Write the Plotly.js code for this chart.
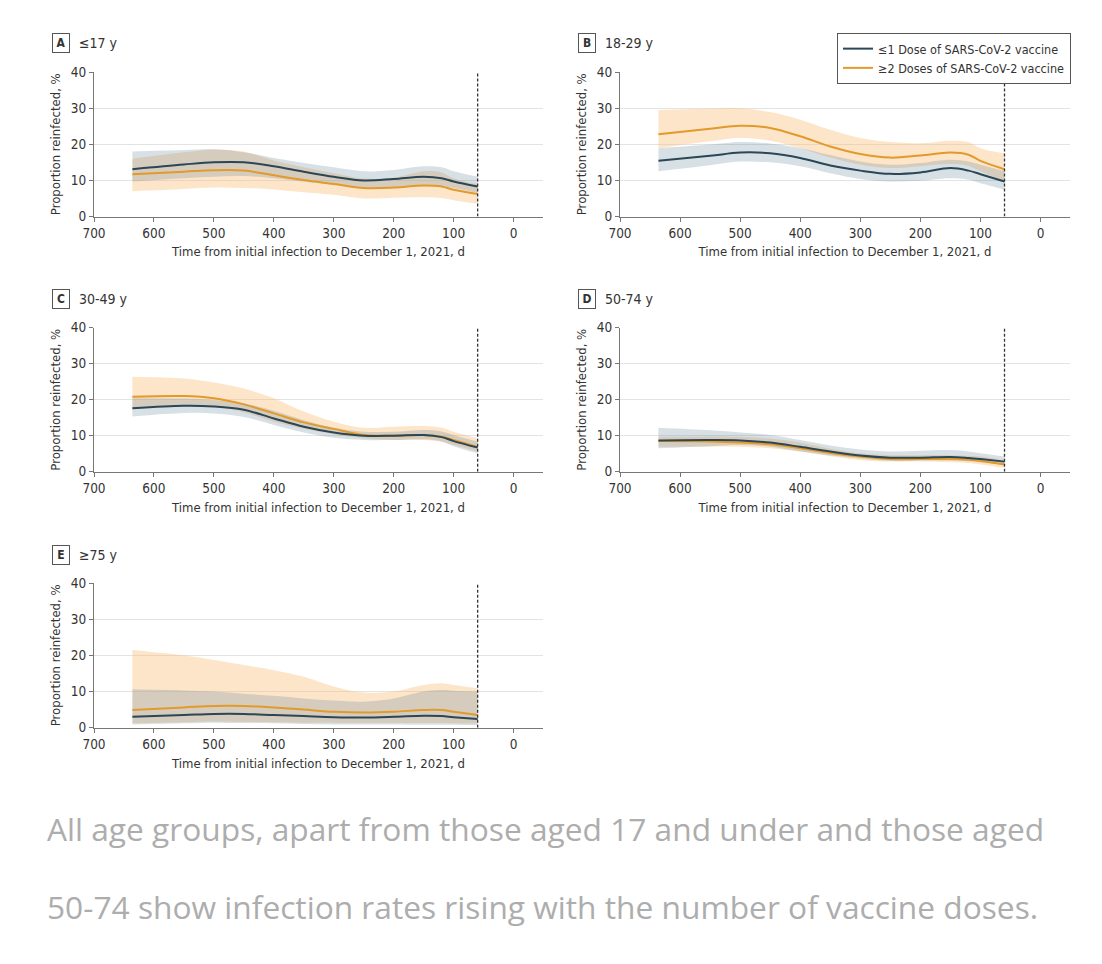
<!DOCTYPE html>
<html>
<head>
<meta charset="utf-8">
<script src="https://cdn.plot.ly/plotly-3.0.1.min.js"></script>
<style>
  html, body { margin: 0; padding: 0; background: #fff; }
  #chart { width: 1102px; height: 964px; }
</style>
</head>
<body>
<div id="chart"></div>
<script>
// days from initial infection to Dec 1, 2021
const days = [636, 550, 500, 450, 400, 350, 300, 250, 200, 150, 120, 100, 60];
const cutoffDay = 60;

// A: <=17 y
const lowDoseA = [13.1, 14.4, 15.0, 15.0, 13.9, 12.4, 11.0, 10.0, 10.4, 11.0, 10.6, 9.7, 8.3];
const lowDoseA_hi = [18.0, 18.4, 18.7, 17.8, 16.2, 14.8, 13.6, 12.5, 12.9, 13.9, 13.6, 12.5, 11.0];
const lowDoseA_lo = [9.7, 10.6, 11.0, 11.2, 10.6, 9.6, 8.8, 7.9, 8.0, 8.6, 8.4, 7.9, 6.5];
const highDoseA = [11.7, 12.4, 12.8, 12.7, 11.4, 10.1, 9.0, 7.9, 8.0, 8.6, 8.3, 7.4, 6.2];
const highDoseA_hi = [16.0, 17.8, 18.5, 18.0, 15.5, 13.6, 12.0, 10.5, 10.7, 12.5, 12.2, 10.5, 9.0];
const highDoseA_lo = [7.0, 7.6, 8.0, 7.9, 7.5, 6.7, 6.0, 5.0, 5.2, 5.3, 5.1, 4.5, 3.5];

// B: 18-29 y
const lowDoseB = [15.4, 16.8, 17.7, 17.5, 16.2, 14.1, 12.7, 11.8, 12.2, 13.4, 12.7, 11.7, 9.7];
const lowDoseB_hi = [18.9, 19.9, 20.6, 20.2, 18.9, 17.0, 15.2, 14.3, 14.8, 15.7, 15.2, 14.3, 12.5];
const lowDoseB_lo = [12.5, 14.2, 15.2, 15.0, 13.9, 12.0, 10.4, 9.7, 9.9, 10.6, 10.2, 9.2, 7.4];
const highDoseB = [22.8, 24.3, 25.1, 24.5, 22.2, 19.4, 17.3, 16.3, 16.9, 17.7, 17.1, 15.4, 13.1];
const highDoseB_hi = [29.5, 29.9, 30.0, 28.9, 26.8, 24.0, 21.7, 20.6, 20.3, 21.0, 20.6, 18.9, 17.5];
const highDoseB_lo = [18.9, 20.8, 21.7, 21.0, 18.9, 16.3, 14.3, 13.4, 13.9, 14.5, 14.0, 12.5, 9.7];

// C: 30-49 y
const lowDoseC = [17.6, 18.3, 18.1, 17.2, 14.8, 12.5, 10.9, 10.0, 10.0, 10.2, 9.6, 8.5, 6.7];
const lowDoseC_hi = [20.4, 20.3, 19.9, 19.0, 16.9, 14.3, 12.2, 11.1, 11.1, 11.6, 11.2, 10.2, 8.3];
const lowDoseC_lo = [15.3, 16.3, 16.2, 15.2, 13.0, 10.9, 9.4, 8.8, 8.8, 9.0, 8.4, 7.1, 5.1];
const highDoseC = [20.8, 21.0, 20.4, 18.7, 16.2, 13.7, 11.9, 10.2, 10.0, 10.2, 9.7, 8.8, 6.9];
const highDoseC_hi = [26.4, 25.9, 24.8, 23.1, 20.4, 16.7, 13.9, 12.2, 12.5, 12.7, 12.2, 11.1, 9.3];
const highDoseC_lo = [17.6, 18.4, 18.1, 16.5, 13.9, 11.9, 10.4, 9.3, 8.8, 8.8, 8.3, 7.4, 5.6];

// D: 50-74 y
const lowDoseD = [8.7, 8.8, 8.7, 8.1, 6.9, 5.6, 4.5, 3.9, 3.9, 4.1, 3.8, 3.5, 2.8];
const lowDoseD_hi = [12.2, 11.5, 10.9, 10.2, 8.8, 7.3, 6.2, 5.6, 5.8, 6.0, 5.6, 5.1, 4.2];
const lowDoseD_lo = [6.5, 7.1, 7.4, 6.9, 5.6, 4.5, 3.7, 3.0, 3.1, 3.1, 2.9, 2.6, 1.9];
const highDoseD = [8.5, 8.4, 8.1, 7.6, 6.5, 5.2, 4.2, 3.5, 3.5, 3.5, 3.3, 3.0, 2.0];
const highDoseD_hi = [9.7, 9.8, 9.7, 9.2, 8.1, 6.4, 5.1, 4.6, 4.6, 4.6, 4.4, 4.2, 3.2];
const highDoseD_lo = [6.9, 7.0, 6.9, 6.5, 5.6, 4.3, 3.2, 2.8, 2.8, 2.6, 2.4, 2.0, 1.1];

// E: >=75 y
const lowDoseE = [3.0, 3.5, 3.8, 3.8, 3.5, 3.2, 2.9, 2.8, 3.0, 3.3, 3.2, 2.9, 2.4];
const lowDoseE_hi = [10.6, 10.3, 10.0, 9.4, 8.8, 8.1, 7.5, 7.2, 8.1, 10.0, 10.4, 10.2, 10.0];
const lowDoseE_lo = [0.9, 1.2, 1.4, 1.3, 1.2, 1.0, 0.9, 0.9, 0.9, 0.8, 0.8, 0.8, 0.7];
const highDoseE = [4.9, 5.6, 6.0, 6.0, 5.6, 5.0, 4.4, 4.2, 4.4, 4.9, 4.9, 4.4, 3.5];
const highDoseE_hi = [21.5, 20.0, 18.7, 17.3, 15.9, 14.1, 11.4, 9.7, 10.0, 11.8, 12.3, 11.8, 10.9];
const highDoseE_lo = [1.2, 1.5, 1.7, 1.6, 1.5, 1.4, 1.4, 1.3, 1.3, 1.3, 1.3, 1.2, 1.2];

const panelLetters = ['A', 'B', 'C', 'D', 'E'];
const panelNames = ['≤17 y', '18-29 y', '30-49 y', '50-74 y', '≥75 y'];
const seriesNames = ['≤1 Dose of SARS-CoV-2 vaccine', '≥2 Doses of SARS-CoV-2 vaccine'];

const panels = [
    { low: lowDoseA, lowHi: lowDoseA_hi, lowLo: lowDoseA_lo, high: highDoseA, highHi: highDoseA_hi, highLo: highDoseA_lo },
    { low: lowDoseB, lowHi: lowDoseB_hi, lowLo: lowDoseB_lo, high: highDoseB, highHi: highDoseB_hi, highLo: highDoseB_lo },
    { low: lowDoseC, lowHi: lowDoseC_hi, lowLo: lowDoseC_lo, high: highDoseC, highHi: highDoseC_hi, highLo: highDoseC_lo },
    { low: lowDoseD, lowHi: lowDoseD_hi, lowLo: lowDoseD_lo, high: highDoseD, highHi: highDoseD_hi, highLo: highDoseD_lo },
    { low: lowDoseE, lowHi: lowDoseE_hi, lowLo: lowDoseE_lo, high: highDoseE, highHi: highDoseE_hi, highLo: highDoseE_lo }
];

const W = 1102, H = 964;
const darkColor = '#2b4656';
const orangeColor = '#e29a2a';
const darkBand = 'rgba(100,135,155,0.26)';
const orangeBand = 'rgba(250,190,120,0.40)';
const font = '"Liberation Sans Narrow", "DejaVu Sans Condensed", Roboto, sans-serif';

// plot boxes in pixels: [left, right, top, bottom]
const boxes = [
    [94, 543, 72, 216.5],
    [620, 1070, 72, 216.5],
    [94, 543, 327.7, 471.7],
    [620, 1070, 327.7, 471.7],
    [94, 543, 583, 727.7]
];

const traces = [];
const layout = {
    width: W,
    height: H,
    margin: { t: 0, r: 0, b: 0, l: 0 },
    paper_bgcolor: '#fff',
    plot_bgcolor: '#fff',
    font: { family: font, size: 13, color: '#333' },
    showlegend: true,
    legend: {
        x: 837 / W, y: 1 - 33 / H, xanchor: 'left', yanchor: 'top',
        bordercolor: '#555', borderwidth: 1, bgcolor: '#fff',
        font: { family: font, size: 12.5, color: '#333' },
        tracegroupgap: 0, itemwidth: 30
    },
    shapes: [],
    annotations: []
};

panels.forEach((p, i) => {
    const n = i === 0 ? '' : String(i + 1);
    const xa = 'x' + n, ya = 'y' + n;
    const box = boxes[i];

    // confidence bands
    [[p.highLo, p.highHi, orangeBand], [p.lowLo, p.lowHi, darkBand]].forEach(([lo, hi, col]) => {
        traces.push({
            x: days, y: lo, xaxis: xa, yaxis: ya, type: 'scatter', mode: 'lines',
            line: { width: 0, shape: 'spline' }, hoverinfo: 'skip', showlegend: false
        });
        traces.push({
            x: days, y: hi, xaxis: xa, yaxis: ya, type: 'scatter', mode: 'lines',
            line: { width: 0, shape: 'spline' }, fill: 'tonexty', fillcolor: col,
            hoverinfo: 'skip', showlegend: false
        });
    });

    traces.push({
        x: days, y: p.high, xaxis: xa, yaxis: ya, type: 'scatter', mode: 'lines',
        name: seriesNames[1], legendgroup: 'high', legendrank: 2, showlegend: i === 0,
        line: { color: orangeColor, width: 2, shape: 'spline' }
    });
    traces.push({
        x: days, y: p.low, xaxis: xa, yaxis: ya, type: 'scatter', mode: 'lines',
        name: seriesNames[0], legendgroup: 'low', legendrank: 1, showlegend: i === 0,
        line: { color: darkColor, width: 2, shape: 'spline' }
    });

    layout['xaxis' + n] = {
        domain: [box[0] / W, box[1] / W],
        anchor: ya,
        range: [700, -49],
        tickvals: [700, 600, 500, 400, 300, 200, 100, 0],
        ticks: 'outside', ticklen: 4, tickcolor: '#777',
        showline: true, linecolor: '#777', linewidth: 1,
        showgrid: false, zeroline: false,
        tickfont: { size: 13.5, color: '#333' },
        title: { text: 'Time from initial infection to December 1, 2021, d', standoff: 7,
                 font: { size: 13, color: '#333' } }
    };
    layout['yaxis' + n] = {
        domain: [1 - box[3] / H, 1 - box[2] / H],
        anchor: xa,
        range: [0, 40],
        tickvals: [0, 10, 20, 30, 40],
        ticks: 'outside', ticklen: 4, tickcolor: '#777',
        showline: true, linecolor: '#777', linewidth: 1,
        showgrid: true, gridcolor: '#e3e3e3', gridwidth: 1, zeroline: false,
        tickfont: { size: 13.5, color: '#333' },
        title: { text: 'Proportion reinfected, %', standoff: 7,
                 font: { size: 13, color: '#333' } }
    };

    // dashed cutoff line
    layout.shapes.push({
        type: 'line', xref: xa, yref: ya, x0: cutoffDay, x1: cutoffDay, y0: 0, y1: 40,
        line: { color: '#333', width: 1.3, dash: '3px,2px' }, layer: 'above'
    });

    // panel label
    const labelY = 1 - (box[2] - 28.5) / H;
    layout.annotations.push({
        xref: 'paper', yref: 'paper', x: (box[0] - 33) / W, y: labelY,
        xanchor: 'center', yanchor: 'middle', showarrow: false,
        text: '<b>' + panelLetters[i] + '</b>',
        font: { size: 12, color: '#333', family: font },
        bordercolor: '#555', borderwidth: 1, borderpad: 2, width: 12
    });
    layout.annotations.push({
        xref: 'paper', yref: 'paper', x: (box[0] - 17) / W, y: labelY,
        xanchor: 'left', yanchor: 'middle', showarrow: false,
        text: panelNames[i],
        font: { size: 14, color: '#333', family: font }
    });
});

// caption
const captionLines = [
    'All age groups, apart from those aged 17 and under and those aged',
    '50-74 show infection rates rising with the number of vaccine doses.'
];
captionLines.forEach((t, k) => {
    layout.annotations.push({
        xref: 'paper', yref: 'paper', x: 45 / W, y: 1 - (828 + 78 * k) / H,
        xanchor: 'left', yanchor: 'middle', showarrow: false, text: t,
        font: { size: 31.7, color: '#adadad', family: '"Open Sans", sans-serif' }
    });
});

Plotly.newPlot('chart', traces, layout, { displayModeBar: false, staticPlot: true });
</script>
</body>
</html>
